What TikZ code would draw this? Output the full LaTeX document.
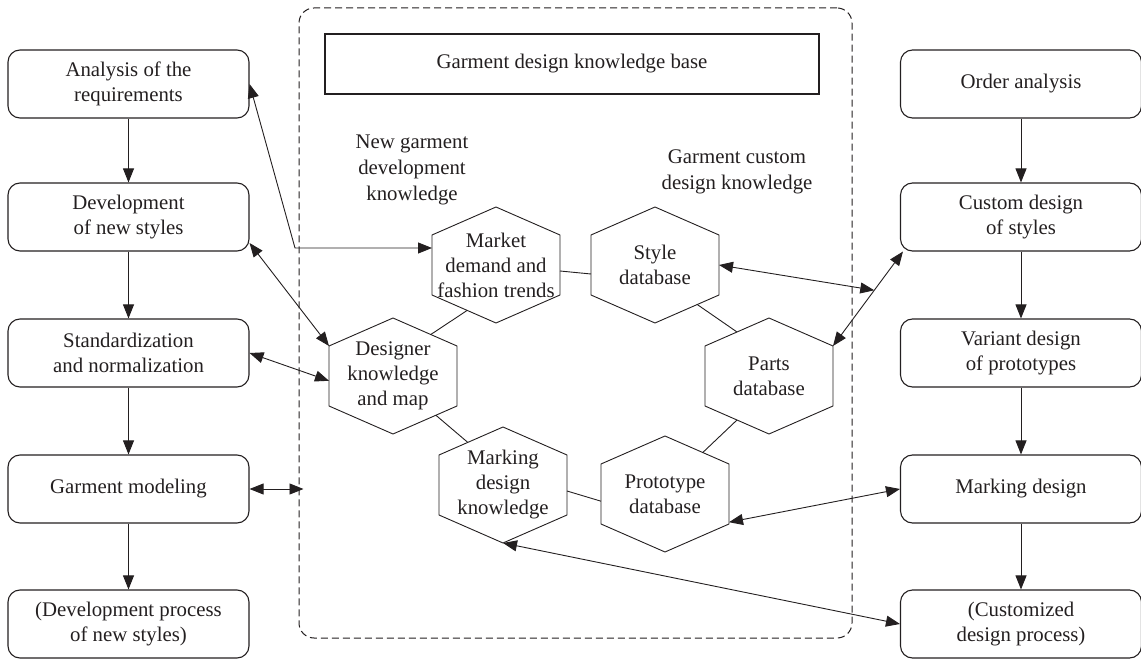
\documentclass[tikz,border=0pt]{standalone}
\usepackage{fontspec}
\setmainfont{Liberation Serif}
\usetikzlibrary{arrows.meta,calc}
\definecolor{ink}{HTML}{231F20}
\tikzset{
  box/.style={draw=ink, line width=1.1pt, rounded corners=12pt, minimum width=241pt, minimum height=68pt,
    align=center, font=\fontsize{20.8}{24.5}\selectfont, inner sep=0pt, text=ink},
  hextext/.style={align=center, font=\fontsize{20.8}{25}\selectfont, inner sep=0pt, text=ink},
  lbl/.style={align=center, font=\fontsize{20.8}{26}\selectfont, inner sep=0pt, text=ink},
  hexline/.style={draw=ink, line width=0.9pt, line join=miter},
  link/.style={draw=ink, line width=0.9pt},
  biarrow/.style={draw=ink, line width=0.9pt, {Triangle[length=14pt,width=11pt]}-{Triangle[length=14pt,width=11pt]}},
  flow/.style={draw=ink, line width=0.9pt, -{Triangle[length=14pt,width=11pt]}},
}
\newcommand\hexnode[4]{%
  \node[hextext] (#1) at (#2,#3) {#4};
  \coordinate (#1-t)  at ($(#1.center)+(0,-58)$);
  \coordinate (#1-tr) at ($(#1.center)+(64,-30)$);
  \coordinate (#1-br) at ($(#1.center)+(64,30)$);
  \coordinate (#1-b)  at ($(#1.center)+(0,58)$);
  \coordinate (#1-bl) at ($(#1.center)+(-64,30)$);
  \coordinate (#1-tl) at ($(#1.center)+(-64,-30)$);
  \draw[hexline] (#1-t) -- (#1-tr) -- (#1-br) -- (#1-b) -- (#1-bl) -- (#1-tl) -- cycle;
}
\begin{document}
\begin{tikzpicture}[x=1pt,y=-1pt]
\useasboundingbox (0,0) rectangle (1141,660);

% knowledge base frame
\node[draw=ink, line width=1pt, dash pattern=on 7pt off 4pt, rounded corners=15pt,
  minimum width=553pt, minimum height=630pt, inner sep=0pt] (kb) at (575.5,323) {};
\node[draw=ink, line width=1.1pt, minimum width=494pt, minimum height=60pt, inner sep=0pt,
  font=\fontsize{20.8}{24.5}\selectfont, text=ink] (title) at (572,64) {Garment design knowledge base};

\node[lbl] (newlbl) at (412,170) {New garment\\development\\knowledge};
\node[lbl] (custlbl) at (737,172) {Garment custom\\design knowledge};

% left column
\node[box] (a1) at (128.5,84)  {Analysis of the\\requirements};
\node[box] (a2) at (128.5,217) {Development\\of new styles};
\node[box] (a3) at (128.5,353) {Standardization\\and normalization};
\node[box] (a4) at (128.5,489) {Garment modeling};
\node[box] (a5) at (128.5,624) {(Development process\\of new styles)};

% right column
\node[box] (b1) at (1021,84)  {Order analysis};
\node[box] (b2) at (1021,217) {Custom design\\of styles};
\node[box] (b3) at (1021,353) {Variant design\\of prototypes};
\node[box] (b4) at (1021,489) {Marking design};
\node[box] (b5) at (1021,624) {(Customized\\design process)};

\draw[flow] (a1) -- (a2);
\draw[flow] (a2) -- (a3);
\draw[flow] (a3) -- (a4);
\draw[flow] (a4) -- (a5);
\draw[flow] (b1) -- (b2);
\draw[flow] (b2) -- (b3);
\draw[flow] (b3) -- (b4);
\draw[flow] (b4) -- (b5);

% hexagons
\hexnode{market}{496}{265}{Market\\demand and\\fashion trends}
\hexnode{style}{655}{265}{Style\\database}
\hexnode{designer}{393}{376}{Designer\\knowledge\\and map}
\hexnode{parts}{769}{376}{Parts\\database}
\hexnode{marking}{503}{485}{Marking\\design\\knowledge}
\hexnode{proto}{665}{494}{Prototype\\database}

% links between hexagons
\draw[link] ($(market-tr)!0.6!(market-br)$) -- ($(style-tl)!0.65!(style-bl)$);
\draw[link] ($(market-b)!0.45!(market-bl)$) -- ($(designer-t)!0.59!(designer-tr)$);
\draw[link] ($(style-br)!0.34!(style-b)$) -- ($(parts-tl)!0.5!(parts-t)$);
\draw[link] ($(designer-br)!0.33!(designer-b)$) -- ($(marking-tl)!0.45!(marking-t)$);
\draw[link] ($(marking-tr)!0.6!(marking-br)$) -- ($(proto-tl)!0.62!(proto-bl)$);
\draw[link] ($(proto-t)!0.59!(proto-tr)$) -- ($(parts-bl)!0.5!(parts-b)$);

% arrows
\coordinate (k1) at (295,248);
\draw[biarrow] (a1.east) -- (k1) -- (k1 -| market-tl);
\draw[biarrow] ([yshift=-26pt]a2.east) -- (designer-tl);
\draw[biarrow] (a3.east) -- ($(designer-tl)!0.58!(designer-bl)$);
\coordinate (kbl) at (kb.west |- a4.east);
\draw[biarrow] (a4.east) -- ([xshift=5pt]kbl);
\coordinate (cc) at ([xshift=3pt]b2.south west);
\coordinate (j) at ($(parts-tr)!0.59!(cc)$);
\draw[biarrow] (parts-tr) -- (cc);
\draw[biarrow] ($(style-tr)!0.5!(style-br)$) -- (j);
\draw[biarrow] ($(proto-tr)!0.97!(proto-br)$) -- (b4.west);
\draw[biarrow] (marking-b) -- (b5.west);
\end{tikzpicture}
\end{document}
